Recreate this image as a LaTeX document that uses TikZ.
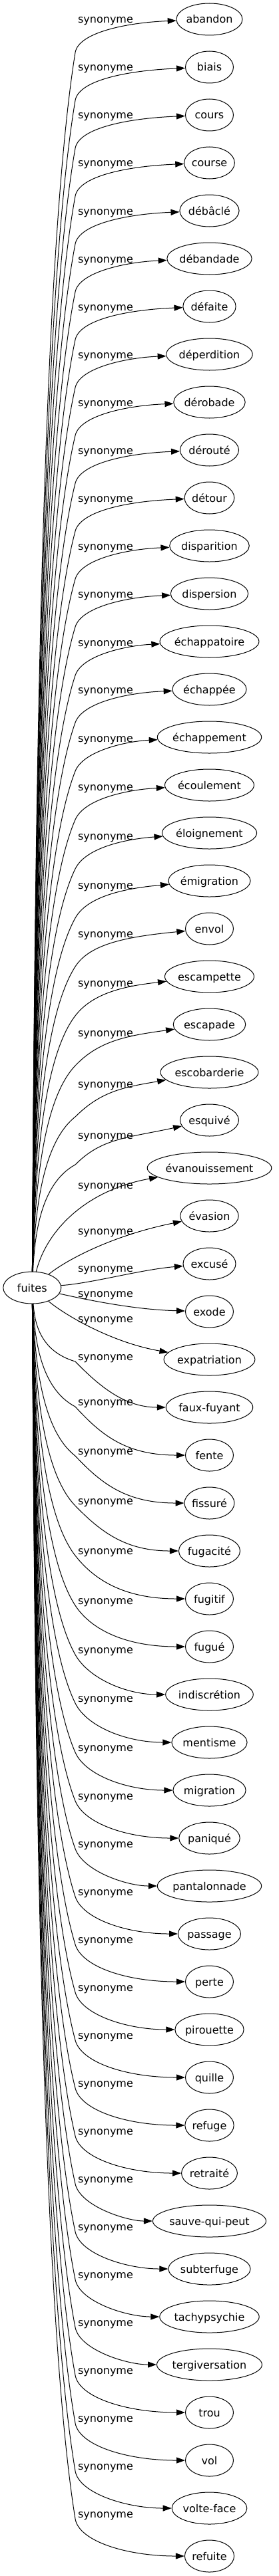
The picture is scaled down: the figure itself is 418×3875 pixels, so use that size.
\documentclass[tikz,border=0pt]{standalone}
\usepackage{fontspec}
\setmainfont{DejaVu Sans}
\usetikzlibrary{arrows.meta,shapes.geometric}

\newcommand\wordfont{\fontsize{16}{19}\selectfont}
\newlength\wordwd

\tikzset{
  word/.style={draw, ellipse, line width=1pt, inner sep=0pt,
    minimum height=48pt, text height=12pt, text depth=0pt},
  syn/.style={inner sep=0pt, anchor=base},
  link/.style={->, line width=1pt},
}

\begin{document}
\begin{tikzpicture}[x=1pt, y=-1pt, font=\wordfont,
  >={Triangle[length=13pt,width=9pt]}]
\useasboundingbox (0,0) rectangle (418,3875);

\node[word, minimum width=87pt] (fuites) at (48.3,1937) {fuites};

% one row per synonym: index/word/label shift/bend shift
\foreach \i/\name/\labshift/\bendshift in {
  1/abandon/0/50, 2/biais/0/50, 3/cours/0/50, 4/course/0/50,
  5/débâclé/0/50, 6/débandade/0/50, 7/défaite/0/50, 8/déperdition/0/50,
  9/dérobade/0/50, 10/dérouté/0/50, 11/détour/0/50, 12/disparition/0/50,
  13/dispersion/0/50, 14/échappatoire/1/50, 15/échappée/0/50,
  16/échappement/1/50, 17/écoulement/2/50, 18/éloignement/4/50,
  19/émigration/6/50, 20/envol/7/50, 21/escampette/9/50, 22/escapade/12/50,
  23/escobarderie/17/50, 24/esquivé/22/45, 25/évanouissement/25/0,
  26/évasion/22/0, 27/excusé/6/0, 28/exode/-28/0, 29/expatriation/-62/0,
  30/faux-fuyant/-77/8, 31/fente/-81/8, 32/fissuré/-79/8, 33/fugacité/-76/8,
  34/fugitif/-73/8, 35/fugué/-70/8, 36/indiscrétion/-68/8, 37/mentisme/-67/8,
  38/migration/-65/8, 39/paniqué/-64/8, 40/pantalonnade/-64/8,
  41/passage/-64/8, 42/perte/-64/8, 43/pirouette/-64/8, 44/quille/-64/8,
  45/refuge/-64/8, 46/retraité/-64/8, 47/sauve-qui-peut/-64/8,
  48/subterfuge/-64/8, 49/tachypsychie/-64/8, 50/tergiversation/-64/8,
  51/trou/-64/8, 52/vol/-64/8, 53/volte-face/-64/8, 54/refuite/-64/8} {
  \pgfmathsetmacro\rowy{29+72*(\i-1)}
  \pgfmathsetmacro\laby{\rowy+\labshift}
  \settowidth{\wordwd}{\wordfont\name}
  \pgfmathsetmacro\wdt{max(72,1.2*\wordwd+33)}
  \node[word, minimum width=\wdt pt] (w\i) at (314.5,\rowy) {\name};
  \node[syn] (s\i) at (158.5,\laby+6) {synonyme};
  \ifnum\i<25
    \pgfmathsetmacro\bendy{\laby+\bendshift}
    \pgfmathsetmacro\armlen{1914-\bendy}
    \pgfmathsetmacro\drop{\bendy-\rowy}
    \pgfmathsetmacro\ctrlx{113+min(40,177*\drop/\armlen)}
    \draw[link] (fuites) .. controls (52,1914-0.33*\armlen) and (60,\bendy+0.18*\armlen)
      .. (113,\bendy) .. controls (\ctrlx,\bendy-0.6*\drop) and (190,\laby+5) .. (w\i);
  \fi
  \ifnum\i>29
    \pgfmathsetmacro\bendy{\laby+\bendshift}
    \pgfmathsetmacro\armlen{\bendy-1961}
    \pgfmathsetmacro\drop{\rowy-\bendy}
    \pgfmathsetmacro\ctrlx{113+min(40,177*\drop/\armlen)}
    \draw[link] (fuites) .. controls (52,1961+0.33*\armlen) and (60,\bendy-0.18*\armlen)
      .. (113,\bendy) .. controls (\ctrlx,\bendy+0.6*\drop) and (190,\rowy) .. (w\i);
  \fi
}

% the rows next to fuites
\draw[link] (fuites) .. controls (70,1850) and (130,1790) .. (w25);
\draw[link] (fuites) .. controls (100,1895) and (170,1858) .. (w26);
\draw[link] (fuites) .. controls (140,1930) and (210,1910) .. (w27);
\draw[link] (fuites) .. controls (130,1955) and (200,1970) .. (w28);
\draw[link] (fuites) .. controls (100,1980) and (170,2020) .. (w29);
\end{tikzpicture}
\end{document}
